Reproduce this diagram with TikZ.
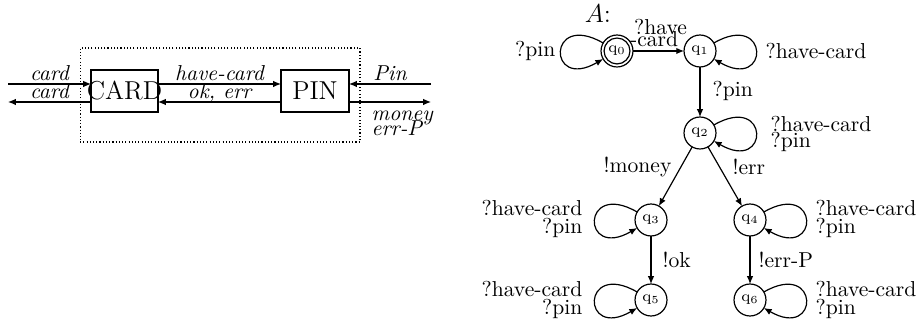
\documentclass[tikz,border=0pt]{standalone}
\usetikzlibrary{arrows.meta}
\begin{document}
\begin{tikzpicture}[x=0.463pt,y=0.463pt, line width=0.55pt,
  >={Latex[length=3.6pt,width=3pt]},
  box/.style={draw, rectangle, minimum width=31pt, minimum height=19.4pt, inner sep=0pt, outer sep=0pt, font=\large},
  st/.style={draw, circle, minimum size=14.8pt, inner sep=0pt, outer sep=0pt, font=\scriptsize},
  lab/.style={inner sep=0pt, font=\normalsize},
  itl/.style={font=\itshape, text depth=0pt, inner sep=1.3pt},
  selfl/.style={->, looseness=1, min distance=30pt}]
\useasboundingbox (0,0) rectangle (917,325);
% ---------- left: block diagram ----------
\node[draw, densely dotted, line width=0.5pt, minimum width=129.6pt, minimum height=43.5pt, inner sep=0pt] (sys) at (220,230) {};
\node[box] (card) at (124.5,234) {\makebox[0pt]{CARD}};
\node[box, minimum width=31.5pt] (pin) at (315,234) {\makebox[0pt]{PIN}};
\coordinate (Lin) at (8,241);
\coordinate (Lout) at (8,223);
\coordinate (Rin) at (431,241);
\coordinate (Rout) at (431,223);
\draw[->] (Lin) -- node[itl, above]{card} (Lin -| card.west);
\draw[->] (card.west |- Lout) -- node[itl, above]{card} (Lout);
\draw[->] (card.east |- Lin) -- node[itl, above]{have-card} (Lin -| pin.west);
\draw[->] (pin.west |- Lout) -- node[itl, above]{ok, err} (Lout -| card.east);
\draw[->] (Rin) -- node[itl, above]{Pin} (Rin -| pin.east);
\draw[->] (pin.east |- Rout) -- (Rout);
\node[itl, anchor=north west, align=left, inner sep=0pt] (mo) at (371,215) {money\\[-5.1pt]err-P};
% ---------- right: automaton ----------
\node[font=\large] (A) at (598,311) {$A$:};
\node[st] (q0) at (617,274) {$\mathrm{q}_0$};
\draw (q0.center) circle[radius=6pt];
\node[st] (q1) at (700,274) {$\mathrm{q}_1$};
\node[st] (q2) at (700,192) {$\mathrm{q}_2$};
\node[st] (q3) at (651,105) {$\mathrm{q}_3$};
\node[st] (q4) at (750,105) {$\mathrm{q}_4$};
\node[st] (q5) at (651,25) {$\mathrm{q}_5$};
\node[st] (q6) at (750,25) {$\mathrm{q}_6$};
\draw[->] (q0) -- node[lab, above, align=left, inner sep=1.7pt]{\hspace*{1.9pt}?have\\[-6.4pt]-card} (q1);
\draw[->] (q1) -- (q2);
\draw[->] (q2) -- (q3);
\draw[->] (q2) -- (q4);
\draw[->] (q3) -- (q5);
\draw[->] (q4) -- (q6);
\draw[selfl] (q0) to[out=150,in=210] (q0);
\draw[selfl] (q1) to[out=30,in=-30] (q1);
\draw[selfl] (q2) to[out=30,in=-30] (q2);
\draw[selfl] (q3) to[out=150,in=210] (q3);
\draw[selfl] (q4) to[out=30,in=-30] (q4);
\draw[selfl] (q5) to[out=150,in=210] (q5);
\draw[selfl] (q6) to[out=30,in=-30] (q6);
\node[lab, anchor=east] (l0) at (556,274) {?pin};
\node[lab, anchor=west] (l1) at (765,274) {?have-card};
\node[lab, anchor=west] (l12) at (712,234) {?pin};
\node[lab, anchor=west, align=left] (l2) at (770,191.5) {?have-card\\[-4.6pt]?pin};
\node[lab, anchor=east] (l23) at (672,158) {!money};
\node[lab, anchor=west] (l24) at (732,158) {!err};
\node[lab, anchor=east, align=right] (l3) at (583,106) {?have-card\\[-3.7pt]?pin};
\node[lab, anchor=west, align=left] (l4) at (815,106) {?have-card\\[-3.7pt]?pin};
\node[lab, anchor=west] (l35) at (662,65) {!ok};
\node[lab, anchor=west] (l46) at (758,65) {!err-P};
\node[lab, anchor=east, align=right] (l5) at (583,25) {?have-card\\[-3.7pt]?pin};
\node[lab, anchor=west, align=left] (l6) at (815,25) {?have-card\\[-3.7pt]?pin};
\end{tikzpicture}
\end{document}
